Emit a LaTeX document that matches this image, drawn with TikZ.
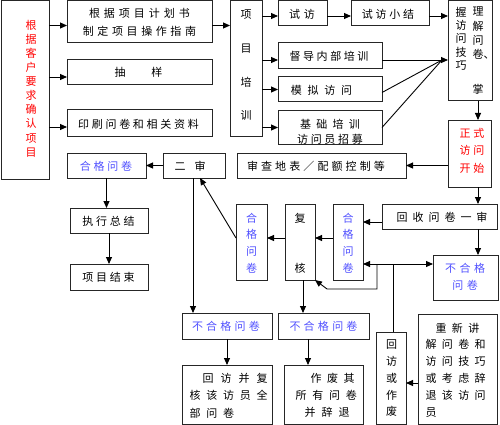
\documentclass[tikz,border=0pt]{standalone}
\usepackage{fontspec}
\setmainfont{Noto Sans CJK SC}
\usetikzlibrary{arrows.meta}
\definecolor{tblue}{RGB}{80,80,255}
\newlength\gapl
\newcommand\spaced[2]{\setlength\gapl{#1}\spacedA#2\relax\unskip}
\def\spacedA#1{\ifx\relax#1\else#1\hskip\gapl\relax\expandafter\spacedA\fi}
\tikzset{
  box/.style={draw=black!85, line width=1pt, inner sep=0pt, outer sep=0pt},
  txt/.style={inner sep=0pt, align=center, font=\fontsize{11}{14}\selectfont},
  arr/.style={-{Triangle[length=7pt,width=6pt]}, line width=0.9pt},
  arrtwo/.style={{Triangle[length=7pt,width=6pt]}-{Triangle[length=7pt,width=6pt]}, line width=0.9pt},
  ln/.style={line width=0.9pt}
}
\newcommand\bx[5]{\node[box, minimum width={#4-#2}, minimum height={#5-#3}] (#1) at ({(#2+#4)/2},{(#3+#5)/2}) {};}
\begin{document}
\begin{tikzpicture}[x=1pt,y=-1pt]
\useasboundingbox (0,0) rectangle (500,425);
% boxes
\bx{L}{1}{1}{49}{179}
\bx{A1}{67}{1}{212}{43}
\bx{A2}{67}{60}{212}{85}
\bx{A3}{67}{110}{212}{136}
\bx{T}{230}{1}{262}{136}
\bx{B1}{278}{1}{327}{26}
\bx{B2}{351}{1}{429}{26}
\bx{C1}{278}{43}{382}{69}
\bx{C2}{278}{77}{382}{102}
\bx{C3}{278}{111}{382}{144}
\bx{D}{448}{1}{492}{101}
\bx{E}{448}{120}{491}{187}
\bx{F}{237}{153}{406}{178}
\bx{G}{163}{153}{225}{178}
\bx{H}{67}{153}{146}{178}
\bx{I}{70}{208}{148}{233}
\bx{J}{70}{264}{148}{290}
\bx{K}{382}{204}{497}{229}
\bx{M1}{333}{204}{363}{280}
\bx{M2}{285}{204}{315}{280}
\bx{M3}{236}{204}{267}{280}
\bx{N}{433}{255}{498}{300}
\bx{P1}{182}{313}{272}{339}
\bx{P2}{278}{313}{369}{339}
\bx{Q1}{182}{365}{272}{424}
\bx{Q2}{284}{365}{363}{424}
\bx{R}{376}{332}{406}{424}
\bx{S}{418}{314}{497}{424}
% texts
\node[txt, text=red, font=\fontsize{11}{14.1}\selectfont] (Lt) at (31,88.5) {根\\据\\客\\户\\要\\求\\确\\认\\项\\目};
\node[txt, font=\fontsize{11}{18}\selectfont] (A1t) at (139.5,22) {\spaced{4pt}{根据项目计划书}\\\spaced{3.6pt}{制定项目操作指南}};
\node[txt] (A2t) at (138.5,72.5) {抽\hspace{26pt}样};
\node[txt] (A3t) at (138.5,124) {\spaced{2.7pt}{印刷问卷和相关资料}};
\node[txt, font=\fontsize{11}{33.7}\selectfont] (Tt) at (246,65.5) {项\\目\\培\\训};
\node[txt] (B1t) at (302,14) {\spaced{4pt}{试访}};
\node[txt] (B2t) at (388,14) {\spaced{2.75pt}{试访小结}};
\node[txt] (C1t) at (329,56.5) {\spaced{2.6pt}{督导内部培训}};
\node[txt] (C2t) at (321.5,90) {\spaced{5.7pt}{模拟访问}};
\node[txt, font=\fontsize{11}{15}\selectfont] (C3t) at (330,131.5) {\spaced{5.25pt}{基础培训}\\\spaced{2.7pt}{访问员招募}};
\node[txt, font=\fontsize{11}{14.3}\selectfont] (Dr) at (478,51) {理\\解\\问\\卷\rlap{、}\\[20.7pt]掌};
\node[txt, font=\fontsize{11}{13.3}\selectfont] (Dl) at (461,38.5) {握\\访\\问\\技\\巧};
\node[txt, text=red, font=\fontsize{11}{17.5}\selectfont] (Et) at (472,150.5) {\spaced{3pt}{正式}\\\spaced{3pt}{访问}\\\spaced{3pt}{开始}};
\node[txt] (Ft) at (316,166) {\spaced{3.1pt}{审查地表／配额控制等}};
\node[txt] (Gt) at (190,166) {二\hspace{9pt}审};
\node[txt, text=tblue] (Ht) at (106,166) {\spaced{2.75pt}{合格问卷}};
\node[txt] (It) at (108.5,221) {\spaced{2.75pt}{执行总结}};
\node[txt] (Jt) at (108.5,277) {\spaced{2.75pt}{项目结束}};
\node[txt] (Kt) at (442,217) {\spaced{5pt}{回收问卷一审}};
\node[txt, text=tblue, font=\fontsize{11}{16.7}\selectfont] (M1t) at (348,243) {合\\格\\问\\卷};
\node[txt, font=\fontsize{11}{16.7}\selectfont] (M2t) at (300,243) {复\\[33.3pt]核};
\node[txt, text=tblue, font=\fontsize{11}{16.7}\selectfont] (M3t) at (251.5,243) {合\\格\\问\\卷};
\node[txt, text=tblue, font=\fontsize{11}{17}\selectfont] (Nt) at (465,276.5) {\spaced{3.5pt}{不合格}\\\spaced{3.5pt}{问卷}};
\node[txt, text=tblue] (P1t) at (226,326) {\spaced{3.25pt}{不合格问卷}};
\node[txt, text=tblue] (P2t) at (323.5,326) {\spaced{3.25pt}{不合格问卷}};
\node[txt, align=left, anchor=west, font=\fontsize{11}{17.5}\selectfont] (Q1t) at (189.5,395.5) {\hspace*{13pt}\spaced{7pt}{回访并复}\\\spaced{5.75pt}{核该访员全}\\\spaced{5.75pt}{部问卷}};
\node[txt, align=left, anchor=west, font=\fontsize{11}{17}\selectfont] (Q2t) at (295.5,395) {\hspace*{15pt}\spaced{5.5pt}{作废其}\\\spaced{5.7pt}{所有问卷}\\\hspace*{9pt}\spaced{6pt}{并辞退}};
\node[txt, font=\fontsize{11}{16.75}\selectfont] (Rt) at (391.5,378.5) {回\\访\\或\\作\\废};
\node[txt, align=left, anchor=west, font=\fontsize{11}{16.8}\selectfont] (St) at (425.5,370) {\hspace*{10pt}\spaced{5.3pt}{重新讲}\\\spaced{5.3pt}{解问卷和}\\\spaced{5.3pt}{访问技巧}\\\spaced{5.3pt}{或考虑辞}\\\spaced{5.3pt}{退该访问}\\员};
% connectors
\coordinate (a1) at ([yshift=-3.5pt]A1.west);
\coordinate (a2) at ([yshift=-4.5pt]A2.west);
\coordinate (a3) at ([yshift=-4pt]A3.west);
\draw[arr] (L.east |- a1) -- (a1);
\draw[arr] (L.east |- a2) -- (a2);
\draw[arr] (L.east |- a3) -- (a3);
\draw[arr] (A1.east |- a1) -- (T.west |- a1);
\coordinate (b1) at ([yshift=-2.5pt]B1.west);
\coordinate (c1) at ([yshift=-4pt]C1.west);
\draw[arr] (T.east |- b1) -- (b1);
\draw[arr] (T.east |- c1) -- (c1);
\draw[arr] (T.east |- C2.west) -- (C2.west);
\draw[arr] (T.east |- C3.west) -- (C3.west);
\draw[arr] (B1.east |- b1) -- (B2.west |- b1);
\draw[arr] (B2.east |- b1) -- (D.west |- b1);
\draw[arr] (C1.east |- c1) -- (D.west |- c1);
\draw[ln] ([yshift=-3pt]C2.east) -- ([xshift=-6pt]D.west |- c1);
\draw[ln] (C3.east) -- ([xshift=-6pt]D.west |- c1);
\coordinate (col) at ([xshift=8pt]D.south);
\draw[arr] (col) -- (col |- E.north);
\draw[arr] (E.west |- F.east) -- (F.east);
\draw[arr] (E.south -| col) -- (K.north -| col);
\draw[arr] (K.south -| col) -- (N.north -| col);
\coordinate (k1) at ([yshift=-5.5pt]K.west);
\draw[arr] (k1) -- (M1.east |- k1);
\coordinate (m1) at ([yshift=4pt]M1.west);
\draw[arr] (m1) -- (M2.east |- m1);
\draw[arr] (M2.west |- m1) -- (M3.east |- m1);
\draw[arr] (M3.west |- m1) -- ([xshift=6pt]G.south);
\draw[arr] (G.west) -- (H.east);
\coordinate (g1) at ([xshift=-1pt]G.south);
\draw[arr] (g1) -- (g1 |- P1.north);
\draw[arr] (H.south) -- (H.south |- I.north);
\draw[arr] (I.south) -- (J.north);
\coordinate (m2) at ([xshift=3pt]M2.south);
\draw[arr] (m2) -- (m2 |- P2.north);
\draw[arr] (P1.south) -- (P1.south |- Q1.north);
\coordinate (p2) at ([xshift=-15.5pt]P2.south);
\draw[arr] (p2) -- (p2 |- Q2.north);
\coordinate (j) at (393,264);
\coordinate (j2) at (377,264);
\coordinate (bend1) at (377,289);
\coordinate (bend2) at (327,289);
\draw[arrtwo] (M1.east |- j) -- (N.west |- j);
\draw[ln] (j) -- (j |- R.north);
\draw[arr] (j2) -- (bend1) -- (bend2) -- (M2.south east);
\coordinate (s1) at ([yshift=-14pt]S.west);
\draw[arr] (s1) -- (R.east |- s1);
\end{tikzpicture}
\end{document}
